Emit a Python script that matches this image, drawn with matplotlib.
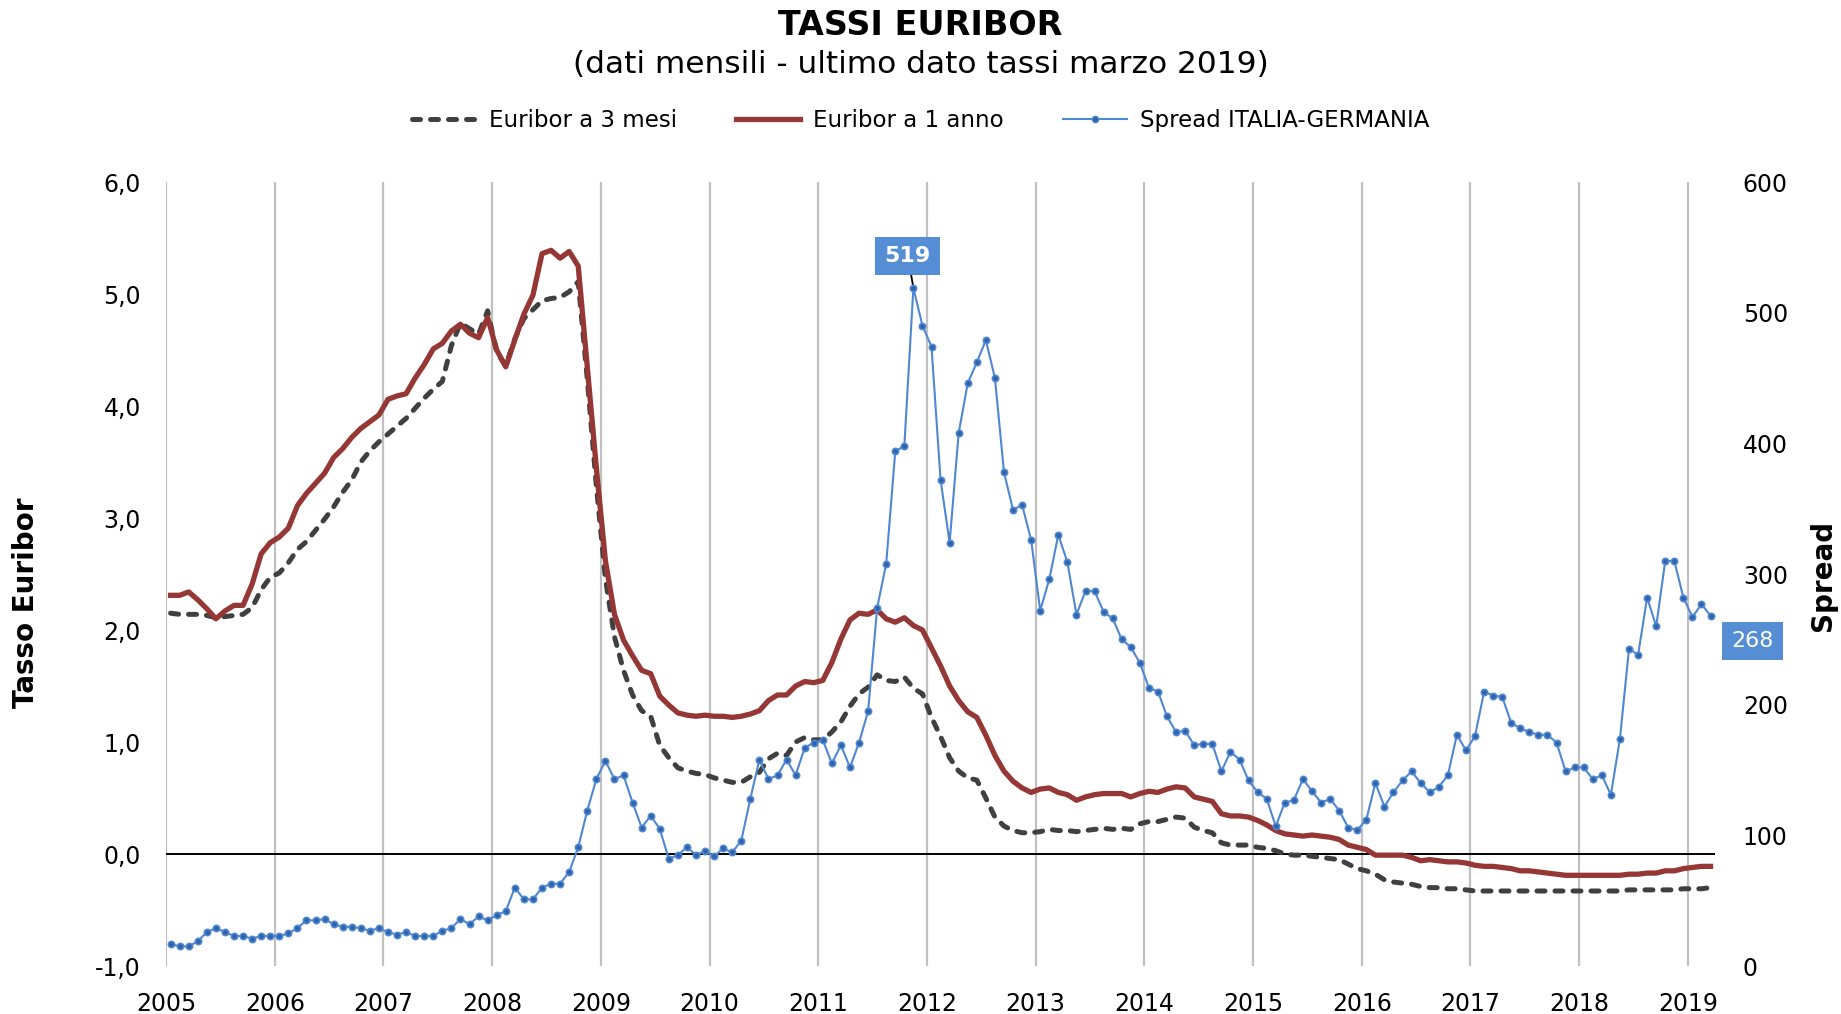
import matplotlib
matplotlib.use("Agg")
import matplotlib.pyplot as plt
from matplotlib.lines import Line2D
import numpy as np

# --- Data (monthly, Jan 2005 - Mar 2019) ---------------------------------------

years = [str(y) for y in range(2005, 2020)]

euribor_3m = [
    2.15, 2.14, 2.14, 2.14, 2.13, 2.11, 2.12, 2.13, 2.14, 2.20, 2.36, 2.47,   # 2005
    2.51, 2.60, 2.72, 2.79, 2.89, 2.99, 3.10, 3.23, 3.34, 3.50, 3.60, 3.68,   # 2006
    3.75, 3.82, 3.89, 3.98, 4.07, 4.15, 4.22, 4.54, 4.74, 4.69, 4.64, 4.85,   # 2007
    4.48, 4.36, 4.60, 4.78, 4.86, 4.94, 4.96, 4.97, 5.02, 5.11, 4.24, 3.29,   # 2008
    2.46, 1.94, 1.64, 1.42, 1.28, 1.23, 0.97, 0.86, 0.77, 0.74, 0.72, 0.71,   # 2009
    0.68, 0.66, 0.64, 0.64, 0.69, 0.73, 0.85, 0.90, 0.88, 1.00, 1.04, 1.02,   # 2010
    1.02, 1.09, 1.18, 1.32, 1.43, 1.49, 1.60, 1.55, 1.54, 1.58, 1.48, 1.43,   # 2011
    1.22, 1.05, 0.86, 0.74, 0.68, 0.66, 0.50, 0.33, 0.25, 0.21, 0.19, 0.19,   # 2012
    0.20, 0.22, 0.21, 0.21, 0.20, 0.21, 0.22, 0.23, 0.22, 0.23, 0.22, 0.27,   # 2013
    0.29, 0.29, 0.31, 0.33, 0.32, 0.24, 0.21, 0.19, 0.10, 0.08, 0.08, 0.08,   # 2014
    0.06, 0.05, 0.03, 0.00, -0.01, -0.01, -0.02, -0.03, -0.04, -0.05, -0.09, -0.13,  # 2015
    -0.15, -0.18, -0.23, -0.25, -0.26, -0.27, -0.29, -0.30, -0.30, -0.31, -0.31, -0.32,  # 2016
    -0.33, -0.33, -0.33, -0.33, -0.33, -0.33, -0.33, -0.33, -0.33, -0.33, -0.33, -0.33,  # 2017
    -0.33, -0.33, -0.33, -0.33, -0.33, -0.32, -0.32, -0.32, -0.32, -0.32, -0.32, -0.31,  # 2018
    -0.31, -0.31, -0.30,                                                       # 2019
]

euribor_1y = [
    2.31, 2.31, 2.34, 2.27, 2.19, 2.10, 2.17, 2.22, 2.22, 2.41, 2.68, 2.78,   # 2005
    2.83, 2.91, 3.11, 3.22, 3.31, 3.40, 3.54, 3.62, 3.72, 3.80, 3.86, 3.92,   # 2006
    4.06, 4.09, 4.11, 4.25, 4.37, 4.51, 4.56, 4.67, 4.73, 4.65, 4.61, 4.79,   # 2007
    4.50, 4.35, 4.59, 4.82, 4.99, 5.36, 5.39, 5.32, 5.38, 5.25, 4.35, 3.45,   # 2008
    2.62, 2.14, 1.91, 1.77, 1.64, 1.61, 1.41, 1.33, 1.26, 1.24, 1.23, 1.24,   # 2009
    1.23, 1.23, 1.22, 1.23, 1.25, 1.28, 1.37, 1.42, 1.42, 1.50, 1.54, 1.53,   # 2010
    1.55, 1.71, 1.92, 2.09, 2.15, 2.14, 2.18, 2.10, 2.07, 2.11, 2.04, 2.00,   # 2011
    1.84, 1.68, 1.50, 1.37, 1.27, 1.22, 1.06, 0.88, 0.74, 0.65, 0.59, 0.55,   # 2012
    0.58, 0.59, 0.55, 0.53, 0.48, 0.51, 0.53, 0.54, 0.54, 0.54, 0.51, 0.54,   # 2013
    0.56, 0.55, 0.58, 0.60, 0.59, 0.51, 0.49, 0.47, 0.36, 0.34, 0.34, 0.33,   # 2014
    0.30, 0.26, 0.21, 0.18, 0.17, 0.16, 0.17, 0.16, 0.15, 0.13, 0.08, 0.06,   # 2015
    0.04, -0.01, -0.01, -0.01, -0.01, -0.03, -0.06, -0.05, -0.06, -0.07, -0.07, -0.08,  # 2016
    -0.10, -0.11, -0.11, -0.12, -0.13, -0.15, -0.15, -0.16, -0.17, -0.18, -0.19, -0.19,  # 2017
    -0.19, -0.19, -0.19, -0.19, -0.19, -0.18, -0.18, -0.17, -0.17, -0.15, -0.15, -0.13,  # 2018
    -0.12, -0.11, -0.11,                                                       # 2019
]

spread = [
    17, 15, 15, 19, 26, 29, 26, 23, 23, 21, 23, 23,              # 2005
    23, 25, 29, 35, 35, 36, 32, 30, 30, 29, 27, 29,              # 2006
    26, 24, 26, 23, 23, 23, 27, 29, 36, 32, 38, 35,              # 2007
    39, 42, 60, 51, 51, 60, 63, 63, 72, 91, 119, 143,            # 2008
    157, 143, 146, 125, 106, 115, 105, 82, 85, 91, 85, 88,       # 2009
    84, 90, 87, 96, 128, 158, 143, 146, 158, 146, 167, 171,      # 2010
    173, 155, 169, 152, 171, 195, 274, 308, 394, 398, 519, 490,  # 2011
    474, 372, 324, 408, 446, 462, 479, 450, 378, 349, 353, 326,  # 2012
    272, 296, 330, 309, 269, 287, 287, 271, 266, 250, 244, 232,  # 2013
    213, 210, 191, 179, 180, 169, 170, 170, 149, 164, 158, 142,  # 2014
    133, 128, 107, 125, 127, 143, 134, 125, 128, 119, 106, 104,  # 2015
    112, 140, 122, 133, 142, 149, 140, 133, 137, 146, 177, 165,  # 2016
    176, 210, 207, 206, 186, 182, 179, 177, 177, 171, 149, 152,  # 2017
    152, 143, 146, 131, 174, 243, 238, 282, 260, 310, 310, 282,  # 2018
    267, 277, 268,                                               # 2019
]

# --- Plot ---------------------------------------------------------------------

plt.rcParams["font.family"] = "DejaVu Sans"

C_3M = "#404040"
C_1Y = "#953735"
C_SPREAD = "#4f87d2"
C_LABEL = "#558ed5"

n = len(spread)
x = np.arange(n) + 0.5

fig = plt.figure(figsize=(18.41, 10.14), dpi=100)
ax = fig.add_axes([0.0902, 0.0473, 0.8414, 0.7732])
ax2 = ax.twinx()

ax.plot(x, euribor_3m, color=C_3M, lw=3.6, linestyle=(0, (1.6, 2.0)),
        dash_capstyle="round", label="Euribor a 3 mesi", zorder=3)
ax.plot(x, euribor_1y, color=C_1Y, lw=3.8, solid_joinstyle="round",
        label="Euribor a 1 anno", zorder=4)
ax.axhline(0, color="black", lw=1.4, zorder=2)

ax2.plot(x, spread, color=C_SPREAD, lw=1.5, marker="o", markersize=4.5,
         markerfacecolor="#2f62a8", markeredgecolor=C_SPREAD, markeredgewidth=1.2,
         label="Spread ITALIA-GERMANIA", zorder=5)

ax.set_xlim(0, n)
ax.set_ylim(-1, 6)
ax2.set_ylim(0, 600)

ax.set_xticks(np.arange(0, n, 12))
ax.set_xticklabels(years)
ax.grid(axis="x", color="#c0c0c0", lw=1.6)
ax.set_axisbelow(True)

yt = np.arange(-1, 7)
ax.set_yticks(yt)
ax.set_yticklabels([f"{v:.1f}".replace(".", ",") for v in yt])
ax2.set_yticks(np.arange(0, 700, 100))

for a in (ax, ax2):
    for s in a.spines.values():
        s.set_visible(False)
ax.tick_params(axis="both", length=0, labelsize=17)
ax.tick_params(axis="x", pad=19)
ax.tick_params(axis="y", pad=18)
ax2.tick_params(axis="y", length=0, labelsize=17, pad=20)

# data labels
ax2.annotate("519", xy=(x[82], spread[82]), xytext=(-4, 23), textcoords="offset points",
             ha="center", va="center", color="white", fontsize=16, fontweight="bold",
             bbox=dict(boxstyle="square,pad=0.42", fc=C_LABEL, ec="none"),
             arrowprops=dict(arrowstyle="-", color="black", lw=1.3, shrinkA=0, shrinkB=1))
ax2.annotate(str(spread[-1]), xy=(x[-1], spread[-1]), xytext=(30, -18), textcoords="offset points",
             ha="center", va="center", color="white", fontsize=16,
             bbox=dict(boxstyle="square,pad=0.42", fc=C_LABEL, ec="none"),
             annotation_clip=False)

# titles
fig.text(0.5, 0.975, "TASSI EURIBOR", ha="center", va="center", fontsize=24, fontweight="bold")
fig.text(0.5, 0.936, "(dati mensili - ultimo dato tassi marzo 2019)", ha="center", va="center",
         fontsize=22.5)
fig.text(0.014, 0.406, "Tasso Euribor", rotation=90, ha="center", va="center",
         fontsize=20, fontweight="bold")
fig.text(0.990, 0.433, "Spread", rotation=90, ha="center", va="center",
         fontsize=20, fontweight="bold")

handles = [
    Line2D([], [], color=C_3M, lw=3.6, linestyle=(0, (1.6, 2.0)), dash_capstyle="round"),
    Line2D([], [], color=C_1Y, lw=3.8),
    Line2D([], [], color=C_SPREAD, lw=1.5, marker="o", markersize=4.5,
           markerfacecolor="#2f62a8", markeredgecolor=C_SPREAD),
]
labels = ["Euribor a 3 mesi", "Euribor a 1 anno", "Spread ITALIA-GERMANIA"]
fig.legend(handles, labels, loc="center", bbox_to_anchor=(0.5, 0.881), ncol=3, frameon=False,
           fontsize=16.5, handlelength=2.8, handletextpad=0.55, columnspacing=2.6)

fig.savefig("out.png", dpi=100)
plt.close(fig)
